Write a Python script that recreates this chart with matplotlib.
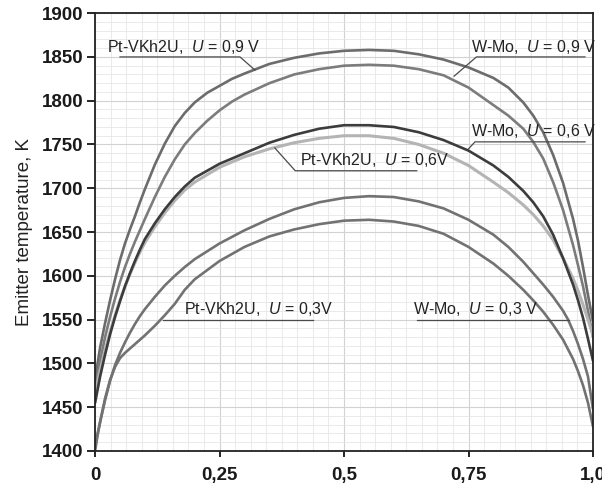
import matplotlib
matplotlib.use("Agg")
import matplotlib.pyplot as plt
import matplotlib.ticker as mtick

# relative coordinate along the emitter and temperature readings, K
x_pt09 = [0, 0.005, 0.01, 0.02, 0.03, 0.04, 0.05, 0.06, 0.07, 0.08, 0.09, 0.1, 0.12, 0.14, 0.16, 0.18, 0.2, 0.225, 0.25, 0.275, 0.3, 0.35, 0.4, 0.45, 0.5, 0.55, 0.6, 0.65, 0.7, 0.75, 0.8, 0.83, 0.86, 0.88, 0.9, 0.92, 0.94, 0.96, 0.97, 0.98, 0.99, 1.0]
t_pt09 = [1480, 1500, 1518, 1546, 1572, 1596, 1618, 1637, 1653, 1668, 1684, 1699, 1727, 1751, 1771, 1786, 1798, 1809, 1817, 1825, 1831, 1842, 1849, 1854, 1857, 1858, 1857, 1853, 1847, 1838, 1826, 1815, 1798, 1783, 1764, 1738, 1706, 1665, 1640, 1610, 1578, 1548]

x_wm09 = [0, 0.01, 0.02, 0.03, 0.04, 0.05, 0.06, 0.07, 0.08, 0.09, 0.1, 0.12, 0.14, 0.16, 0.18, 0.2, 0.225, 0.25, 0.275, 0.3, 0.35, 0.4, 0.45, 0.5, 0.55, 0.6, 0.65, 0.7, 0.75, 0.8, 0.83, 0.86, 0.88, 0.9, 0.92, 0.94, 0.96, 0.97, 0.98, 0.99, 1.0]
t_wm09 = [1470, 1503, 1530, 1553, 1574, 1593, 1610, 1625, 1639, 1652, 1665, 1690, 1713, 1733, 1750, 1763, 1777, 1789, 1799, 1807, 1820, 1830, 1836, 1840, 1841, 1840, 1836, 1829, 1815, 1795, 1783, 1768, 1753, 1734, 1707, 1675, 1635, 1612, 1588, 1560, 1530]

x_wm06 = [0, 0.01, 0.02, 0.03, 0.04, 0.05, 0.06, 0.07, 0.08, 0.09, 0.1, 0.12, 0.14, 0.16, 0.18, 0.2, 0.25, 0.3, 0.35, 0.4, 0.45, 0.5, 0.55, 0.6, 0.65, 0.7, 0.75, 0.8, 0.83, 0.86, 0.88, 0.9, 0.92, 0.94, 0.96, 0.97, 0.98, 0.99, 1.0]
t_wm06 = [1455, 1485, 1510, 1533, 1553, 1571, 1588, 1603, 1617, 1630, 1642, 1660, 1676, 1690, 1702, 1712, 1728, 1740, 1752, 1761, 1768, 1772, 1772, 1770, 1764, 1755, 1743, 1726, 1713, 1697, 1684, 1668, 1647, 1620, 1590, 1572, 1552, 1528, 1503]

x_pt06 = [0, 0.01, 0.02, 0.03, 0.04, 0.05, 0.06, 0.07, 0.08, 0.09, 0.1, 0.12, 0.14, 0.16, 0.18, 0.2, 0.25, 0.3, 0.35, 0.4, 0.45, 0.5, 0.55, 0.6, 0.65, 0.7, 0.75, 0.8, 0.83, 0.86, 0.88, 0.9, 0.92, 0.94, 0.96, 0.97, 0.98, 0.99, 1.0]
t_pt06 = [1465, 1492, 1515, 1536, 1555, 1572, 1588, 1602, 1615, 1627, 1638, 1656, 1672, 1686, 1698, 1707, 1724, 1736, 1745, 1752, 1757, 1760, 1760, 1757, 1750, 1740, 1726, 1707, 1695, 1681, 1670, 1657, 1641, 1620, 1597, 1583, 1567, 1550, 1532]

x_wm03 = [0, 0.005, 0.01, 0.02, 0.03, 0.04, 0.05, 0.06, 0.07, 0.08, 0.09, 0.1, 0.12, 0.14, 0.16, 0.18, 0.2, 0.25, 0.3, 0.35, 0.4, 0.45, 0.5, 0.55, 0.6, 0.65, 0.7, 0.75, 0.8, 0.83, 0.86, 0.88, 0.9, 0.92, 0.94, 0.95, 0.96, 0.97, 0.98, 0.99, 1.0]
t_wm03 = [1405, 1420, 1433, 1458, 1480, 1498, 1512, 1524, 1535, 1545, 1554, 1562, 1576, 1589, 1600, 1610, 1619, 1637, 1652, 1665, 1676, 1684, 1689, 1691, 1690, 1685, 1677, 1664, 1647, 1633, 1616, 1603, 1590, 1576, 1560, 1550, 1537, 1522, 1505, 1485, 1448]

x_pt03 = [0, 0.005, 0.01, 0.02, 0.03, 0.04, 0.05, 0.06, 0.07, 0.08, 0.09, 0.1, 0.12, 0.14, 0.16, 0.18, 0.2, 0.25, 0.3, 0.35, 0.4, 0.45, 0.5, 0.55, 0.6, 0.65, 0.7, 0.75, 0.8, 0.83, 0.86, 0.88, 0.9, 0.92, 0.94, 0.96, 0.97, 0.98, 0.99, 1.0]
t_pt03 = [1400, 1418, 1433, 1460, 1481, 1496, 1506, 1512, 1517, 1522, 1527, 1532, 1543, 1555, 1568, 1584, 1596, 1617, 1633, 1645, 1653, 1659, 1663, 1664, 1662, 1657, 1648, 1633, 1614, 1600, 1584, 1572, 1559, 1544, 1527, 1505, 1491, 1475, 1455, 1428]

x_ticks = [0, 0.25, 0.5, 0.75, 1.0]
x_ticklabels = ["0", "0,25", "0,5", "0,75", "1,0"]
y_ticks = list(range(1400, 1901, 50))

# label text, text anchor, leader line (x list, y list)
labels = [
    ("Pt-VKh2U,  $U$ = 0,9 V", (0.024, 1851), [0.05, 0.291, 0.321], [1850, 1850, 1835]),
    ("W-Mo,  $U$ = 0,9 V", (0.756, 1851), [0.984, 0.766, 0.721], [1850, 1850, 1828]),
    ("W-Mo,  $U$ = 0,6 V", (0.756, 1755), [0.984, 0.763, 0.75], [1753, 1753, 1745]),
    ("Pt-VKh2U,  $U$ = 0,6V", (0.412, 1722), [0.646, 0.402, 0.361], [1720, 1720, 1746]),
    ("Pt-VKh2U,  $U$ = 0,3V", (0.179, 1552), [0.438, 0.137], [1550, 1550]),
    ("W-Mo,  $U$ = 0,3 V", (0.639, 1552), [0.646, 0.952], [1550, 1550]),
]

plt.rcParams["font.family"] = ["Liberation Sans", "DejaVu Sans"]
plt.rcParams["mathtext.fontset"] = "custom"
plt.rcParams["mathtext.it"] = "Liberation Sans:italic"
plt.rcParams["mathtext.rm"] = "Liberation Sans"

fig = plt.figure(figsize=(6.02, 4.87), dpi=100)
ax = fig.add_axes([0.158, 0.074, 0.827, 0.899])

ax.plot(x_pt09, t_pt09, color="#6c6c6c", lw=1.9, solid_capstyle="round")
ax.plot(x_wm09, t_wm09, color="#7c7c7c", lw=1.9, solid_capstyle="round")
ax.plot(x_pt06, t_pt06, color="#b4b4b4", lw=2.2, solid_capstyle="round")
ax.plot(x_wm06, t_wm06, color="#3c3c3c", lw=1.9, solid_capstyle="round")
ax.plot(x_wm03, t_wm03, color="#727272", lw=1.9, solid_capstyle="round")
ax.plot(x_pt03, t_pt03, color="#727272", lw=1.9, solid_capstyle="round")

for text, (tx, ty), lx, ly in labels:
    ax.plot(lx, ly, color="#4a4a4a", lw=0.9)
    ax.text(tx, ty, text, fontsize=11.5, color="#222222", va="bottom", ha="left")

ax.set_xlim(0, 1.0)
ax.set_ylim(1400, 1900)
ax.set_xticks(x_ticks)
ax.set_xticklabels(x_ticklabels)
ax.xaxis.set_minor_locator(mtick.MultipleLocator(1 / 32))
ax.set_yticks(y_ticks)
ax.yaxis.set_minor_locator(mtick.MultipleLocator(10))
ax.grid(True, which="minor", color="#e6e6e6", lw=0.6)
ax.grid(True, which="major", color="#d2d2d2", lw=0.8)
ax.set_axisbelow(True)

ax.tick_params(axis="x", which="major", direction="out", length=4.5, width=1.2, pad=7)
ax.tick_params(axis="y", which="major", direction="out", length=5.5, width=1.2, pad=3)
ax.tick_params(which="minor", length=0)
for lab in ax.get_xticklabels() + ax.get_yticklabels():
    lab.set_family(["Liberation Sans Narrow", "Liberation Sans", "DejaVu Sans"])
    lab.set_fontweight("bold")
    lab.set_fontsize(13.5)
    lab.set_color("#1a1a1a")
for sp in ax.spines.values():
    sp.set_linewidth(1.3)
    sp.set_color("#222222")

ax.set_ylabel("Emitter temperature, K", fontsize=13.5, color="#222222", labelpad=6)

fig.savefig("out.png", dpi=100)
